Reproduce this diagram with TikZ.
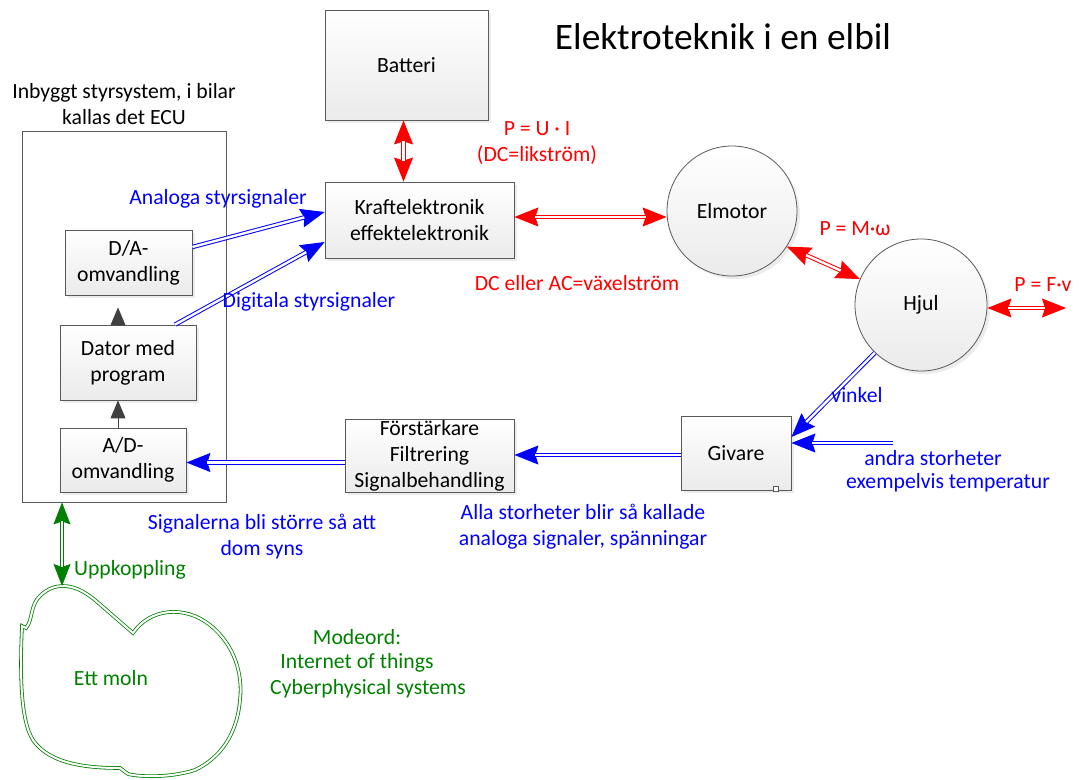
\documentclass[tikz,border=0pt]{standalone}
\usepackage{fontspec}
\setmainfont{Carlito}
\usetikzlibrary{arrows.meta,shadows}
\definecolor{boxline}{HTML}{595959}
\definecolor{myred}{HTML}{FF0000}
\definecolor{myblue}{HTML}{0000FF}
\definecolor{mygreen}{HTML}{008000}
\newcommand{\lbl}{\fontsize{21.7}{26}\selectfont}
\tikzset{
  box/.style={draw=boxline, line width=0.8pt, top color=white, bottom color=black!8,
    drop shadow={shadow xshift=3pt, shadow yshift=-3pt, fill=black!15},
    align=center, font=\lbl, inner sep=0pt},
  wheel/.style={circle, draw=boxline, line width=0.8pt, top color=white, bottom color=black!8,
    drop shadow={shadow xshift=3pt, shadow yshift=-3pt, fill=black!15},
    align=center, font=\lbl, inner sep=0pt},
  txt/.style={font=\lbl, align=center, inner sep=0pt},
  dbl/.style={double distance=2.4pt, line width=1pt},
  bigtip/.tip={Stealth[length=24pt,width=19pt,inset=3pt]},
  greentip/.tip={Stealth[length=22pt,width=17pt,inset=3pt]},
  grayarr/.style={draw=black!75, fill=black!75, line width=1pt, -{Triangle[length=18pt,width=15pt]}},
}
% two-headed double connector: colour, from, to
\newcommand{\arrboth}[3]{%
  \draw[draw=#1, fill=#1, line width=1pt, bigtip-bigtip] #2 -- #3;
  \draw[draw=#1, dbl, shorten <=21pt, shorten >=21pt] #2 -- #3;}
% one-headed double connector: colour, from, to
\newcommand{\arrone}[3]{%
  \draw[draw=#1, fill=#1, line width=1pt, -bigtip] #2 -- #3;
  \draw[draw=#1, dbl, shorten >=21pt] #2 -- #3;}
\begin{document}
\begin{tikzpicture}[x=1pt,y=-1pt]
\useasboundingbox (0,0) rectangle (1083,779);

% title
\node[font=\fontsize{37.4}{44}\selectfont, inner sep=0pt] (title) at (723,37) {Elektroteknik i en elbil};

% ECU frame
\node[draw=boxline, line width=0.8pt, minimum width=204pt, minimum height=371pt, inner sep=0pt] (ecu) at (124,316.5) {};
\node[txt] (ecutext) at (124,104) {Inbyggt styrsystem, i bilar\\kallas det ECU};

% boxes
\node[box, minimum width=163pt, minimum height=110pt] (batt) at (406.5,65) {Batteri};
\node[box, minimum width=189pt, minimum height=76pt] (kraft) at (419.5,220) {Kraftelektronik\\effektelektronik};
\node[box, minimum width=127pt, minimum height=65pt] (da) at (128.5,262.5) {D/A-\\omvandling};
\node[box, minimum width=136pt, minimum height=75pt] (dator) at (128,362.5) {Dator med\\program};
\node[box, minimum width=126pt, minimum height=64pt] (ad) at (123,460) {A/D-\\omvandling};
\node[box, minimum width=169pt, minimum height=73pt] (forst) at (429.5,455.5) {Förstärkare\\Filtrering\\Signalbehandling};
\node[box, minimum width=110pt, minimum height=74pt] (giv) at (736,453) {Givare};
\node[draw=boxline, fill=white, line width=0.6pt, minimum size=5pt, inner sep=0pt] (givsq) at (776,488.5) {};

% circles
\node[wheel, minimum size=130pt] (elmotor) at (732,211) {Elmotor};
\node[wheel, minimum size=132pt] (hjul) at (921,305) {Hjul};

% free ends
\coordinate (pfv) at (1066,308);
\coordinate (andra) at (893,443);

% red connectors
\arrboth{myred}{([xshift=-3pt]batt.south)}{([xshift=-3pt]batt.south |- kraft.north)}
\arrboth{myred}{([yshift=3pt]kraft.east)}{([yshift=3pt]kraft.east -| elmotor.west)}
\arrboth{myred}{(elmotor.-33)}{(hjul.157)}
\arrboth{myred}{([yshift=-3pt]hjul.east)}{(pfv)}

% blue connectors
\arrone{myblue}{([yshift=15.5pt]da.east)}{([yshift=8pt]kraft.west)}
\arrone{myblue}{([xshift=47pt]dator.north)}{([yshift=-22pt]kraft.west)}
\arrone{myblue}{(hjul.-134)}{([yshift=16pt]giv.east)}
\arrone{myblue}{(andra)}{([yshift=10pt]giv.east)}
\arrone{myblue}{([yshift=-2pt]giv.west)}{([yshift=-2pt]giv.west -| forst.east)}
\arrone{myblue}{([yshift=-7pt]forst.west)}{([yshift=-7pt]forst.west -| ad.east)}

% gray internal arrows
\draw[grayarr] ([xshift=-5pt]ad.north) -- ([xshift=-5pt]ad.north |- dator.south);
\draw[grayarr] ([xshift=-10pt]dator.north) -- ([xshift=-10pt,yshift=-12pt]dator.north |- da.south);

% cloud
\draw[dbl, draw=mygreen, line width=0.8pt, double distance=2pt]
  (63,586) .. controls (75,586) and (85,592) .. (95,600) -- (133,633)
  .. controls (150,608) and (185,605) .. (210,625)
  .. controls (235,645) and (243,675) .. (240,700)
  .. controls (237,735) and (220,758) .. (195,770)
  .. controls (170,778) and (140,777) .. (128,774)
  -- (120,768)
  .. controls (90,768) and (50,765) .. (33,740)
  .. controls (20,720) and (20,670) .. (22,626)
  -- (26,628)
  .. controls (33,620) and (30,605) .. (40,596)
  .. controls (48,588) and (56,586) .. cycle;
\coordinate (cloudtop) at (63,586);
\node[txt, text=mygreen] (moln) at (111,678) {Ett moln};

% green connector
\draw[draw=mygreen, fill=mygreen, line width=1pt, greentip-greentip] ([xshift=-62pt]ecu.south) -- ([xshift=-62pt]ecu.south |- cloudtop);
\draw[draw=mygreen, dbl, shorten <=19pt, shorten >=19pt] ([xshift=-62pt]ecu.south) -- ([xshift=-62pt]ecu.south |- cloudtop);

% red labels
\node[txt, text=myred] (pui) at (537,143) {P = U · I\\(DC=likström)};
\node[txt, text=myred] (dcac) at (577,283) {DC eller AC=växelström};
\node[txt, text=myred] (pmw) at (855,229) {P = M·ω};
\node[txt, text=myred] (pfvl) at (1043,285) {P = F·v};

% blue labels
\node[txt, text=myblue] (analoga) at (218,199) {Analoga styrsignaler};
\node[txt, text=myblue] (digitala) at (309,302) {Digitala styrsignaler};
\node[txt, text=myblue] (vinkel) at (857,395) {vinkel};
\node[txt, text=myblue] (andra1) at (933,458) {andra storheter};
\node[txt, text=myblue] (andra2) at (948,483) {exempelvis temperatur};
\node[txt, text=myblue] (sign) at (262,537) {Signalerna bli större så att\\dom syns};
\node[txt, text=myblue] (alla) at (583,527) {Alla storheter blir så kallade\\analoga signaler, spänningar};

% green labels
\node[txt, text=mygreen] (upp) at (130,570) {Uppkoppling};
\node[txt, text=mygreen] (mode1) at (357,637) {Modeord:};
\node[txt, text=mygreen] (mode2) at (357,663) {Internet of things};
\node[txt, text=mygreen] (mode3) at (368,689) {Cyberphysical systems};
\end{tikzpicture}
\end{document}
